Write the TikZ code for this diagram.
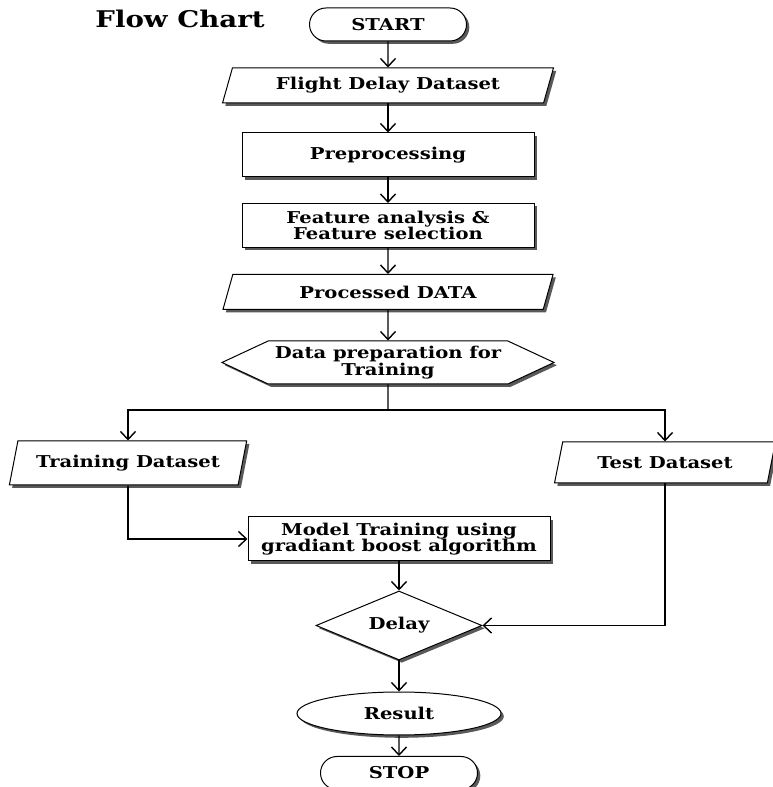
\documentclass[tikz,border=0pt]{standalone}
\usepackage{fontspec}
\setmainfont{DejaVu Serif}[FakeStretch=1.2]
\usepackage{tikz}
\usetikzlibrary{arrows.meta,positioning,shapes.geometric,shapes.misc,shapes.symbols,shadows}

\begin{document}
\begin{tikzpicture}[
x=1pt,
y=1pt,
every node/.style={font=\bfseries\fontsize{16.3}{16.5}\selectfont},
dshadow/.style={drop shadow={shadow xshift=2.8pt,shadow yshift=-2.8pt,fill=black!65,opacity=1}},
term/.style={rounded rectangle,draw,fill=white,dshadow,line width=1pt,minimum width=157pt,minimum height=33pt,inner sep=0pt},
io/.style={trapezium,trapezium left angle=66,trapezium right angle=114,trapezium stretches=true,draw,fill=white,dshadow,line width=1pt,minimum height=35pt,inner sep=0pt},
proc/.style={rectangle,draw,fill=white,dshadow,line width=1pt,minimum width=292pt,minimum height=44pt,align=center,inner sep=0pt},
prepbox/.style={signal,signal to=west and east,signal pointer angle=50,draw,fill=white,dshadow,line width=1pt,minimum width=332pt,minimum height=43pt,align=center,inner sep=0pt},
dec/.style={diamond,aspect=2.4,draw,fill=white,dshadow,line width=1pt,minimum width=166pt,minimum height=69pt,inner sep=0pt},
res/.style={ellipse,draw,fill=white,dshadow,line width=1pt,minimum width=204pt,minimum height=43pt,inner sep=0pt},
arr/.style={-{Straight Barb[length=8pt,width=15pt]},line width=1.4pt},
lne/.style={line width=1.4pt}
]
\useasboundingbox (0,0) rectangle (772,787);
\node[font=\bfseries\fontsize{23}{25}\selectfont] (title) at (180,768) {Flow Chart};
\node[term] (start) at (388,762.5) {START};
\node[io,minimum width=331pt] (flight) at (388,701.5) {Flight Delay Dataset};
\node[proc] (prep) at (388,632) {Preprocessing};
\node[proc] (feat) at (388,561.5) {Feature analysis \&\\Feature selection};
\node[io,minimum width=331pt] (procdata) at (388,495) {Processed DATA};
\node[prepbox] (dataprep) at (388,424.5) {Data preparation for\\Training};
\coordinate (split) at (388,377);
\node[io,minimum width=238pt,minimum height=44pt] (train) at (128,324) {Training Dataset};
\node[io,minimum width=221pt,minimum height=41pt] (test) at (665,324.5) {Test Dataset};
\node[proc,minimum width=302pt] (model) at (399,248) {Model Training using\\gradiant boost algorithm};
\node[dec] (delay) at (399,161.5) {Delay};
\node[res] (result) at (399,73.5) {Result};
\node[term] (stop) at (399,14) {STOP};

\draw[arr] (start) -- (flight);
\draw[arr] (flight) -- (prep);
\draw[arr] (prep) -- (feat);
\draw[arr] (feat) -- (procdata);
\draw[arr] (procdata) -- (dataprep);
\draw[lne] (dataprep) -- (split);
\draw[arr] (split) -| (train);
\draw[arr] (split) -| (test);
\draw[arr] (train) |- (model);
\draw[arr] (model) -- (delay);
\draw[arr] (test) |- (delay);
\draw[arr] (delay) -- (result);
\draw[arr] (result) -- (stop);
\end{tikzpicture}
\end{document}
